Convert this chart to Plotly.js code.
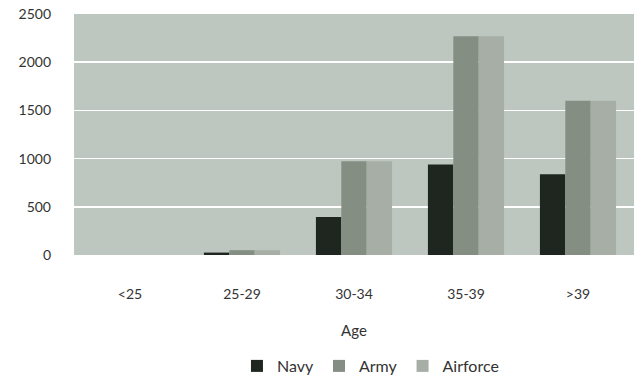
<!DOCTYPE html>
<html><head><meta charset="utf-8">
<script src="https://cdn.plot.ly/plotly-3.0.1.min.js"></script>
<style>html,body{margin:0;padding:0;background:#fff}</style>
</head><body><div id="chart" style="width:636px;height:385px"></div>
<script>
const categories = ["<25", "25-29", "30-34", "35-39", ">39"];
const navy = [0, 25, 395, 940, 838];
const army = [0, 50, 972, 2268, 1600];
const airforce = [0, 50, 972, 2268, 1600];
const yTicks = [0, 500, 1000, 1500, 2000, 2500];

const font = {family: "Lato, 'Open Sans', sans-serif", size: 14, color: "#333"};
const traces = [
  {type: "bar", name: "Navy", x: categories, y: navy, marker: {color: "#1e261f"}},
  {type: "bar", name: "Army", x: categories, y: army, marker: {color: "#858e83"}},
  {type: "bar", name: "Airforce", x: categories, y: airforce, marker: {color: "#a6aea6"}}
];
const layout = {
  width: 636, height: 385,
  margin: {l: 74, r: 2, t: 14, b: 128},
  paper_bgcolor: "#fff", plot_bgcolor: "#bdc6bf",
  font: font,
  barmode: "group", bargap: 0.32, bargroupgap: 0,
  xaxis: {type: "category", showgrid: false, ticks: "", ticklabelstandoff: 29,
          title: {text: "Age", font: {size: 15, color: "#333"}, standoff: 24},
          tickfont: {size: 14}},
  yaxis: {range: [0, 2500], tickvals: yTicks, showgrid: true, gridcolor: "#ffffff", gridwidth: 1.5,
          zeroline: false, ticks: "", ticklabelstandoff: 22, tickfont: {size: 14}},
  showlegend: true,
  legend: {orientation: "h", x: 0.291, xanchor: "left", y: -0.39, yanchor: "top",
           font: {size: 16, color: "#333"}, traceorder: "normal"}
};
Plotly.newPlot("chart", traces, layout, {displayModeBar: false, staticPlot: true});
</script></body></html>
